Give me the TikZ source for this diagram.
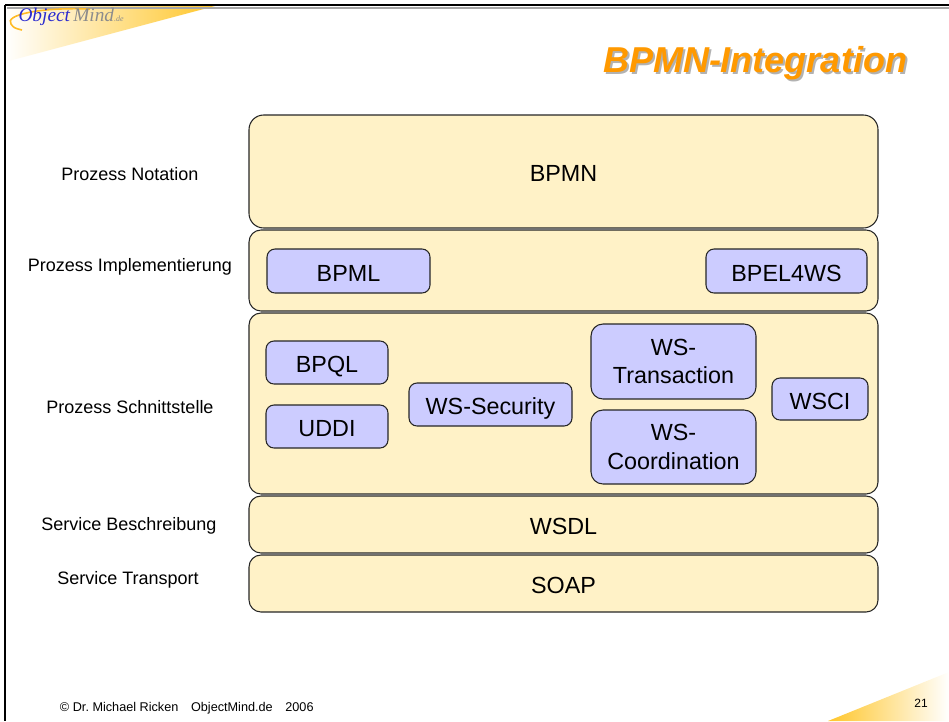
\documentclass[tikz,border=0pt]{standalone}
\usepackage{fontspec}
\setmainfont{Liberation Sans}
\newfontfamily\logofont{Liberation Serif}
\usetikzlibrary{shapes.geometric}
\definecolor{layerfill}{HTML}{FFF2C7}
\definecolor{specfill}{HTML}{CCCCFF}
\definecolor{titleorange}{HTML}{FF9900}
\definecolor{wedgeyellow}{HTML}{FFC62A}
\definecolor{logoblue}{HTML}{2B2BD0}
\tikzset{every picture/.style={line width=0.8pt}}

\begin{document}
\begin{tikzpicture}[x=0.75pt, y=-0.75pt,
  layer/.style={draw=black!85, fill=layerfill, minimum width=471.75pt, rounded corners=9pt, inner sep=0pt, text height=15.5pt, text depth=0.5pt, font=\fontsize{17.5}{21.5}\selectfont},
  specbase/.style={draw=black!85, fill=specfill, rounded corners=6pt, inner sep=0pt, font=\fontsize{17.5}{21.5}\selectfont},
  spec/.style={specbase, text height=15.5pt, text depth=0.5pt},
  spectwo/.style={specbase, align=center, rounded corners=9pt},
  lbl/.style={font=\fontsize{13.5}{16}\selectfont}]
\useasboundingbox (0,0) rectangle (949,721);

% slide frame and corner wedges
\shade[left color=white, right color=wedgeyellow] (5,6) -- (215,6) -- (5,62) -- cycle;
\shade[left color=wedgeyellow, right color=white] (828,721) -- (949,721) -- (949,672) -- cycle;
\draw[black!35, line width=1pt] (7,8) -- (949,8);
\draw[line width=1.5pt] (5,5) -- (949,5);
\draw[line width=1.5pt] (5,5) -- (5,721);

% logo
\draw[wedgeyellow!85!orange, line width=1.2pt] (90,9) .. controls (40,7) and (4,15) .. (11,24) .. controls (14,28) .. (22,30);
\node (logo) at (18,17) [anchor=west, inner sep=0pt, font=\logofont\itshape\fontsize{14.5}{16}\selectfont] {\textcolor{logoblue}{Object}\,\textcolor{black!45}{Mind}{\fontsize{6}{7}\selectfont\textcolor{black!45}{.de}}};

% title
\node (shadow) at (757,65) [text=black!30, font=\bfseries\itshape\fontsize{27}{32}\selectfont] {BPMN-Integration};
\node (title) at (755,63) [text=titleorange, font=\bfseries\itshape\fontsize{27}{32}\selectfont] {BPMN-Integration};

% layers
\node (bpmn) at (563.5,171.5) [layer, minimum height=84.75pt, rounded corners=11pt] {BPMN};
\node (impl) at (563.5,270.5) [layer, minimum height=60.75pt] {};
\node (intf) at (563.5,403.5) [layer, minimum height=135.75pt] {};
\node (wsdl) at (563.5,524.5) [layer, minimum height=42.75pt] {WSDL};
\node (soap) at (563.5,583.5) [layer, minimum height=42.75pt] {SOAP};

% layer labels
\node (lnot) at (130,174) [lbl] {Prozess Notation};
\node (limp) at (130,267) [lbl] {Prozess Implementierung};
\node (lint) at (130,407) [lbl] {Prozess Schnittstelle};
\node (ldes) at (129,526) [lbl] {Service Beschreibung};
\node (ltra) at (128,580) [lbl] {Service Transport};

% specifications
\node (bpml) at (348.5,271) [spec, minimum width=122.25pt, minimum height=33pt] {BPML};
\node (bpel) at (786.5,271) [spec, minimum width=120.75pt, minimum height=33pt] {BPEL4WS};
\node (bpql) at (327,362.5) [spec, minimum width=91.5pt, minimum height=32.25pt] {BPQL};
\node (uddi) at (327,426.5) [spec, minimum width=91.5pt, minimum height=32.25pt] {UDDI};
\node (wssec) at (490.5,404.5) [spec, minimum width=122.25pt, minimum height=32.25pt] {WS-Security};
\node (wstx) at (673.5,361.5) [spectwo, minimum width=123.75pt, minimum height=56.25pt] {WS-\\Transaction};
\node (wscoord) at (673.5,447) [spectwo, minimum width=123.75pt, minimum height=55.5pt] {WS-\\Coordination};
\node (wsci) at (820,399) [spec, minimum width=72pt, minimum height=31.5pt] {WSCI};

% footer
\node (footer) at (55,708) [anchor=west, font=\fontsize{9.5}{11}\selectfont] {\textcopyright\ Dr.~Michael Ricken\quad ObjectMind.de\quad 2006};
\node (page) at (921,703) [font=\fontsize{9}{11}\selectfont] {21};
\end{tikzpicture}
\end{document}
